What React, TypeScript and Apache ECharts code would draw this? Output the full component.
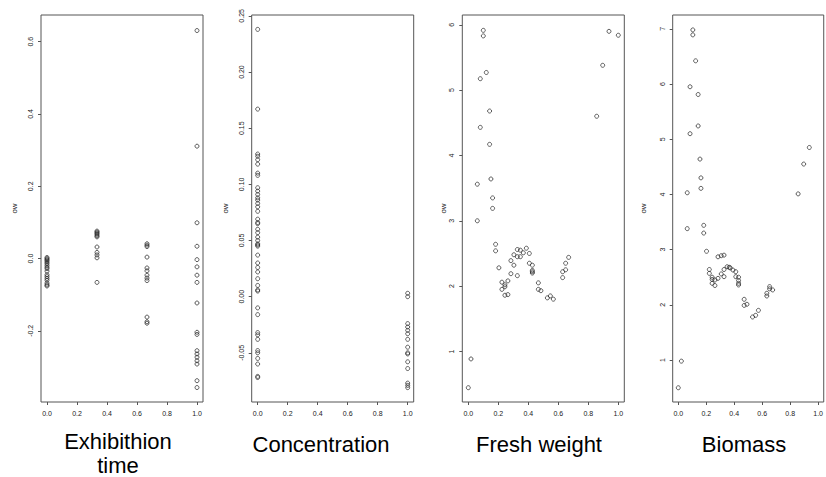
import React, { useEffect, useRef } from "react";
import * as echarts from "echarts";

// ---------- data ----------
const panelTitles = ["Exhibithion\ntime", "Concentration", "Fresh weight", "Biomass"];
const xTicks = [0, 0.2, 0.4, 0.6, 0.8, 1.0];

// Panel 1: Exhibithion time (x levels 0, 1/3, 2/3, 1)
const exhibitionLevels = [0, 1 / 3, 2 / 3, 1];
const exhibitionOw = [
  [0.003, 0.0, -0.003, -0.006, -0.01, -0.014, -0.019, -0.024, -0.028, -0.035, -0.045, -0.05, -0.055, -0.06, -0.068, -0.073, -0.076],
  [0.076, 0.073, 0.07, 0.067, 0.063, 0.06, 0.032, 0.017, 0.01, 0.002, -0.066],
  [0.041, 0.037, 0.033, 0.004, -0.026, -0.034, -0.046, -0.054, -0.061, -0.162, -0.175, -0.179],
  [0.631, 0.311, 0.099, 0.034, -0.003, -0.023, -0.046, -0.066, -0.123, -0.204, -0.21, -0.255, -0.264, -0.273, -0.283, -0.292, -0.338, -0.357],
];
const exhibitionYTicks = [-0.2, 0.0, 0.2, 0.4, 0.6];

// Panel 2: Concentration (x levels 0, 1)
const concentrationLevels = [0, 1];
const concentrationOw = [
  [0.238, 0.167, 0.127, 0.125, 0.122, 0.118, 0.11, 0.108, 0.097, 0.094, 0.091, 0.088, 0.086, 0.083, 0.08, 0.076,
    0.069, 0.066, 0.065, 0.06, 0.057, 0.053, 0.05, 0.047, 0.046, 0.045, 0.037, 0.03, 0.026, 0.022, 0.016, 0.01,
    0.006, 0.005, -0.01, -0.016, -0.032, -0.034, -0.038, -0.048, -0.05, -0.055, -0.06, -0.071, -0.072],
  [0.003, 0.0, -0.024, -0.027, -0.03, -0.033, -0.038, -0.045, -0.05, -0.051, -0.058, -0.064, -0.077, -0.079, -0.081],
];
const concentrationYTicks = [-0.05, 0.0, 0.05, 0.1, 0.15, 0.2, 0.25];

// Panel 3: Fresh weight  [x, ow]
const freshWeightPoints = [
  [0.0, 0.445], [0.018, 0.885], [0.06, 3.0], [0.06, 3.56], [0.08, 4.43], [0.08, 5.175], [0.1, 5.915], [0.1, 5.83],
  [0.12, 5.27], [0.142, 4.68], [0.142, 4.17], [0.151, 3.64], [0.162, 3.35], [0.162, 3.19], [0.182, 2.64], [0.182, 2.54],
  [0.204, 2.28], [0.224, 2.06], [0.224, 1.95], [0.244, 2.02], [0.244, 1.99], [0.244, 1.86], [0.264, 2.08], [0.264, 1.87],
  [0.284, 2.19], [0.284, 2.39], [0.304, 2.32], [0.304, 2.48], [0.327, 2.56], [0.327, 2.45], [0.327, 2.16], [0.347, 2.55],
  [0.347, 2.45], [0.367, 2.51], [0.387, 2.58], [0.407, 2.5], [0.407, 2.35], [0.427, 2.32], [0.427, 2.24], [0.427, 2.22],
  [0.427, 2.2], [0.467, 2.05], [0.467, 1.95], [0.484, 1.93], [0.527, 1.82], [0.547, 1.85], [0.567, 1.8], [0.629, 2.13],
  [0.629, 2.22], [0.649, 2.25], [0.649, 2.35], [0.669, 2.44], [0.856, 4.6], [0.896, 5.38], [0.938, 5.9], [1.0, 5.84],
];
const freshWeightYTicks = [1, 2, 3, 4, 5, 6];

// Panel 4: Biomass  [x, ow]
const biomassPoints = [
  [0.0, 0.498], [0.022, 0.98], [0.064, 4.03], [0.064, 3.38], [0.084, 5.95], [0.084, 5.1], [0.104, 6.98], [0.104, 6.89],
  [0.124, 6.42], [0.142, 5.81], [0.142, 5.24], [0.155, 4.64], [0.162, 4.3], [0.162, 4.11], [0.182, 3.44], [0.182, 3.3],
  [0.202, 2.97], [0.222, 2.64], [0.222, 2.57], [0.242, 2.5], [0.242, 2.46], [0.242, 2.39], [0.262, 2.45], [0.262, 2.35],
  [0.284, 2.48], [0.284, 2.87], [0.307, 2.89], [0.307, 2.56], [0.327, 2.9], [0.327, 2.64], [0.327, 2.51], [0.349, 2.69],
  [0.364, 2.68], [0.371, 2.67], [0.391, 2.63], [0.411, 2.6], [0.411, 2.51], [0.431, 2.5], [0.431, 2.44], [0.431, 2.39],
  [0.431, 2.36], [0.471, 2.1], [0.471, 1.99], [0.491, 2.01], [0.531, 1.78], [0.553, 1.81], [0.573, 1.9], [0.633, 2.21],
  [0.633, 2.16], [0.653, 2.33], [0.653, 2.29], [0.675, 2.27], [0.857, 4.01], [0.897, 4.55], [0.937, 4.85],
];
const biomassYTicks = [1, 2, 3, 4, 5, 6, 7];

// ---------- layout / style ----------
const FONT = '"Liberation Sans", Arial, sans-serif';
const panelLeft = [41, 251.7, 462.3, 672.7];
const panelWidth = 162;
const panelTop = 15;
const panelHeight = 387;
const yRanges = [
  [-0.397, 0.674],
  [-0.0938, 0.2508],
  [0.226, 6.15],
  [0.24, 7.25],
];
const yDecimals = [1, 2, 0, 0];
const nameGaps = [23, 22, 13, 25];
const titleX = [118, 321, 539, 744];
const titleTop = [429, 432, 432, 432];

function levelPoints(levels: number[], values: number[][]) {
  const out: number[][] = [];
  levels.forEach((lv, i) => values[i].forEach((v) => out.push([lv, v])));
  return out;
}

export default function App() {
  const ref = useRef<HTMLDivElement>(null);

  useEffect(() => {
    if (!ref.current) return;
    const chart = echarts.init(ref.current, undefined, { renderer: "svg" });

    const seriesData = [
      levelPoints(exhibitionLevels, exhibitionOw),
      levelPoints(concentrationLevels, concentrationOw),
      freshWeightPoints,
      biomassPoints,
    ];
    const yTicks = [exhibitionYTicks, concentrationYTicks, freshWeightYTicks, biomassYTicks];

    const grid = panelLeft.map((l) => ({
      left: l,
      top: panelTop,
      width: panelWidth,
      height: panelHeight,
      show: true,
      borderColor: "#555",
      borderWidth: 1,
      backgroundColor: "transparent",
      containLabel: false,
    }));

    const xAxis = panelLeft.map((_, i) => ({
      gridIndex: i,
      type: "value",
      position: "bottom",
      min: -0.04,
      max: 1.04,
      axisLine: { show: false, onZero: false },
      splitLine: { show: false },
      axisTick: { show: true, inside: false, length: 3, lineStyle: { color: "#555" }, customValues: xTicks },
      axisLabel: {
        fontSize: 7,
        color: "#222",
        fontFamily: FONT,
        margin: 8,
        customValues: xTicks,
        formatter: (v: number) => v.toFixed(1),
      },
    }));

    const yAxis = panelLeft.map((_, i) => ({
      gridIndex: i,
      type: "value",
      position: "left",
      min: yRanges[i][0],
      max: yRanges[i][1],
      name: "ow",
      nameLocation: "middle",
      nameRotate: 90,
      nameGap: nameGaps[i],
      nameTextStyle: { fontSize: 8, color: "#222", fontFamily: FONT },
      axisLine: { show: false, onZero: false },
      splitLine: { show: false },
      axisTick: { show: true, inside: false, length: 3, lineStyle: { color: "#555" }, customValues: yTicks[i] },
      axisLabel: {
        rotate: 90,
        fontSize: 7,
        color: "#222",
        fontFamily: FONT,
        margin: 7,
        customValues: yTicks[i],
        formatter: (v: number) => v.toFixed(yDecimals[i]),
      },
    }));

    const series = seriesData.map((d, i) => ({
      type: "scatter",
      xAxisIndex: i,
      yAxisIndex: i,
      data: d,
      symbol: "circle",
      symbolSize: 4,
      itemStyle: { color: "rgba(255,255,255,0)", borderColor: "#222", borderWidth: 0.9 },
      emphasis: { disabled: true },
    }));

    const graphic = panelTitles.map((t, i) => ({
      type: "text",
      x: titleX[i],
      y: titleTop[i],
      style: {
        text: t,
        fill: "#000",
        font: `22px ${FONT}`,
        textAlign: "center",
        textVerticalAlign: "top",
        lineHeight: 24,
      },
    }));

    chart.setOption({
      animation: false,
      backgroundColor: "#fff",
      grid,
      xAxis,
      yAxis,
      series,
      graphic,
    } as any);

    return () => chart.dispose();
  }, []);

  return (
    <div
      ref={ref}
      style={{ position: "absolute", left: 0, top: 0, width: 826, height: 477 }}
    />
  );
}
